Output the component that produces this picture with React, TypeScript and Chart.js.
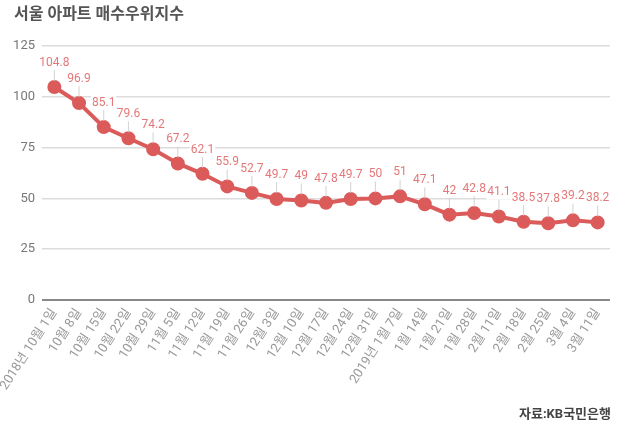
import React, { useEffect, useRef } from "react";
import { Chart, registerables } from "chart.js";

Chart.register(...registerables);

const TITLE = "서울 아파트 매수우위지수";
const SOURCE = "자료:KB국민은행";

const categories = [
  "2018년 10월 1일", "10월 8일", "10월 15일", "10월 22일", "10월 29일",
  "11월 5일", "11월 12일", "11월 19일", "11월 26일",
  "12월 3일", "12월 10일", "12월 17일", "12월 24일", "12월 31일",
  "2019년 1월 7일", "1월 14일", "1월 21일", "1월 28일",
  "2월 11일", "2월 18일", "2월 25일", "3월 4일", "3월 11일",
];

const values = [
  104.8, 96.9, 85.1, 79.6, 74.2, 67.2, 62.1, 55.9, 52.7, 49.7, 49, 47.8,
  49.7, 50, 51, 47.1, 42, 42.8, 41.1, 38.5, 37.8, 39.2, 38.2,
];

const yTicks = [0, 25, 50, 75, 100, 125];

const FONT = 'Roboto, "Noto Sans CJK KR", sans-serif';

const labelPlugin = {
  id: "labelPlugin",
  afterDatasetsDraw(chart: any) {
    const ctx = chart.ctx;
    const meta = chart.getDatasetMeta(0);
    ctx.save();
    ctx.font = `12px ${FONT}`;
    ctx.textAlign = "center";
    ctx.textBaseline = "middle";
    meta.data.forEach((pt: any, i: number) => {
      const x = pt.x;
      const y = pt.y;
      const txt = String(values[i]);
      const ty = y - 24;
      ctx.strokeStyle = "rgba(205,205,205,0.9)";
      ctx.lineWidth = 1;
      ctx.beginPath();
      ctx.moveTo(x, y - 6);
      ctx.lineTo(x, ty + 7);
      ctx.stroke();
      const w = ctx.measureText(txt).width;
      ctx.fillStyle = "#ffffff";
      ctx.fillRect(x - w / 2 - 1, ty - 7, w + 2, 14);
      ctx.fillStyle = "rgb(228,120,120)";
      ctx.fillText(txt, x, ty);
    });
    ctx.restore();
  },
  afterDraw(chart: any) {
    const ctx = chart.ctx;
    ctx.save();
    ctx.textBaseline = "middle";
    ctx.fillStyle = "#555";
    ctx.font = `bold 16px ${FONT}`;
    ctx.textAlign = "left";
    ctx.fillText(TITLE, 14, 15);
    ctx.fillStyle = "#444";
    ctx.font = `bold 13px ${FONT}`;
    ctx.textAlign = "right";
    ctx.fillText(SOURCE, 611, 415);
    ctx.restore();
  },
};

export default function App() {
  const ref = useRef<HTMLCanvasElement>(null);
  useEffect(() => {
    document.body.style.margin = "0";
    const chart = new Chart(ref.current!, {
      type: "line",
      data: {
        labels: categories,
        datasets: [
          {
            data: values,
            borderColor: "rgb(219,90,90)",
            backgroundColor: "rgb(219,90,90)",
            borderWidth: 4,
            pointRadius: 5,
            pointHoverRadius: 5,
            pointBackgroundColor: "rgb(219,90,90)",
            pointBorderColor: "rgb(219,90,90)",
            tension: 0,
          },
        ],
      },
      options: {
        animation: false,
        responsive: false,
        layout: { padding: { left: 0, right: 20, top: 46, bottom: 0 } },
        plugins: { legend: { display: false }, tooltip: { enabled: false } },
        scales: {
          x: {
            offset: true,
            grid: { display: false, drawTicks: false },
            border: { display: false },
            ticks: {
              color: "#999",
              font: { size: 13, family: FONT },
              minRotation: 57,
              maxRotation: 57,
              padding: 6,
              autoSkip: false,
            },
            afterFit: (s: any) => {
              s.height = 137;
              s.paddingLeft = 0;
              s.paddingRight = 0;
            },
          },
          y: {
            min: 0,
            max: 125,
            afterBuildTicks: (s: any) => {
              s.ticks = yTicks.map((v) => ({ value: v }));
            },
            grid: {
              drawTicks: false,
              color: (c: any) => (c.tick && c.tick.value === 0 ? "#888" : "#dcdcdc"),
              lineWidth: (c: any) => (c.tick && c.tick.value === 0 ? 2 : 1.5),
            },
            border: { display: false },
            ticks: {
              color: "#777",
              font: { size: 13, family: FONT },
              padding: 7,
            },
            afterFit: (s: any) => {
              s.width = 42;
            },
          },
        },
      },
      plugins: [labelPlugin],
    });
    return () => chart.destroy();
  }, []);
  return (
    <div style={{ width: 630, height: 437, background: "#fff" }}>
      <canvas ref={ref} width={630} height={437} />
    </div>
  );
}
